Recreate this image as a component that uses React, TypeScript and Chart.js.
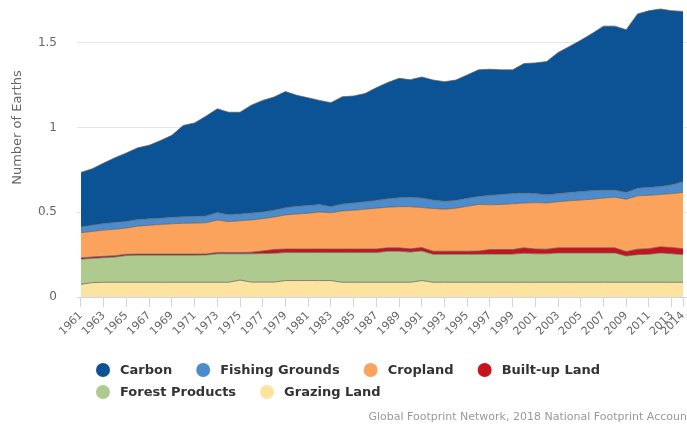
import React, { useEffect, useRef } from 'react';
import { Chart, registerables } from 'chart.js';

Chart.register(...registerables);

const years = [
  1961, 1962, 1963, 1964, 1965, 1966, 1967, 1968, 1969, 1970,
  1971, 1972, 1973, 1974, 1975, 1976, 1977, 1978, 1979, 1980,
  1981, 1982, 1983, 1984, 1985, 1986, 1987, 1988, 1989, 1990,
  1991, 1992, 1993, 1994, 1995, 1996, 1997, 1998, 1999, 2000,
  2001, 2002, 2003, 2004, 2005, 2006, 2007, 2008, 2009, 2010,
  2011, 2012, 2013, 2014,
];

const tickLabels = [
  '1961', '1963', '1965', '1967', '1969', '1971', '1973', '1975', '1977', '1979',
  '1981', '1983', '1985', '1987', '1989', '1991', '1993', '1995', '1997', '1999',
  '2001', '2003', '2005', '2007', '2009', '2011', '2013', '2014',
];

const yTickValues = [0, 0.5, 1, 1.5];

const grazingLand = [
  0.075, 0.085, 0.087, 0.087, 0.087, 0.087, 0.087, 0.087, 0.087, 0.087,
  0.087, 0.087, 0.087, 0.087, 0.100, 0.088, 0.088, 0.088, 0.097, 0.097,
  0.097, 0.097, 0.097, 0.087, 0.087, 0.087, 0.087, 0.087, 0.087, 0.087,
  0.097, 0.087, 0.087, 0.087, 0.087, 0.087, 0.087, 0.087, 0.087, 0.087,
  0.087, 0.087, 0.087, 0.087, 0.087, 0.087, 0.087, 0.087, 0.087, 0.087,
  0.087, 0.087, 0.087, 0.087,
];

const forestProducts = [
  0.148, 0.143, 0.145, 0.149, 0.158, 0.160, 0.160, 0.160, 0.160, 0.160,
  0.160, 0.161, 0.168, 0.168, 0.155, 0.167, 0.168, 0.170, 0.165, 0.165,
  0.165, 0.165, 0.165, 0.175, 0.175, 0.175, 0.175, 0.183, 0.183, 0.178,
  0.175, 0.165, 0.165, 0.165, 0.165, 0.165, 0.166, 0.166, 0.166, 0.171,
  0.168, 0.168, 0.173, 0.173, 0.173, 0.173, 0.173, 0.173, 0.155, 0.163,
  0.165, 0.173, 0.168, 0.163,
];

const builtUpLand = [
  0.007, 0.008, 0.008, 0.007, 0.007, 0.006, 0.006, 0.006, 0.006, 0.006,
  0.006, 0.006, 0.007, 0.007, 0.007, 0.009, 0.016, 0.022, 0.021, 0.021,
  0.021, 0.021, 0.021, 0.021, 0.021, 0.021, 0.021, 0.020, 0.020, 0.019,
  0.020, 0.018, 0.018, 0.018, 0.018, 0.019, 0.027, 0.027, 0.027, 0.032,
  0.028, 0.027, 0.030, 0.030, 0.030, 0.030, 0.030, 0.030, 0.026, 0.032,
  0.033, 0.036, 0.037, 0.035,
];

const cropland = [
  0.149, 0.151, 0.155, 0.157, 0.155, 0.165, 0.170, 0.175, 0.179, 0.182,
  0.183, 0.184, 0.192, 0.183, 0.188, 0.191, 0.190, 0.192, 0.201, 0.207,
  0.211, 0.219, 0.214, 0.225, 0.229, 0.235, 0.241, 0.240, 0.243, 0.249,
  0.236, 0.252, 0.248, 0.254, 0.265, 0.275, 0.264, 0.266, 0.270, 0.265,
  0.274, 0.273, 0.272, 0.278, 0.282, 0.287, 0.294, 0.299, 0.309, 0.315,
  0.315, 0.309, 0.318, 0.332,
];

const fishingGrounds = [
  0.034, 0.037, 0.038, 0.040, 0.039, 0.039, 0.038, 0.037, 0.038, 0.039,
  0.040, 0.040, 0.044, 0.040, 0.040, 0.040, 0.040, 0.040, 0.042, 0.045,
  0.046, 0.043, 0.036, 0.040, 0.043, 0.044, 0.046, 0.050, 0.052, 0.055,
  0.056, 0.050, 0.047, 0.046, 0.047, 0.047, 0.056, 0.059, 0.060, 0.058,
  0.053, 0.048, 0.048, 0.049, 0.050, 0.051, 0.046, 0.041, 0.040, 0.045,
  0.047, 0.047, 0.052, 0.063,
];

const carbon = [
  0.322, 0.333, 0.357, 0.382, 0.404, 0.423, 0.434, 0.458, 0.484, 0.538,
  0.551, 0.589, 0.612, 0.605, 0.600, 0.637, 0.658, 0.668, 0.686, 0.655,
  0.635, 0.615, 0.613, 0.633, 0.631, 0.638, 0.665, 0.685, 0.705, 0.694,
  0.714, 0.708, 0.705, 0.710, 0.728, 0.747, 0.744, 0.735, 0.730, 0.764,
  0.771, 0.786, 0.832, 0.861, 0.893, 0.927, 0.968, 0.968, 0.960, 1.028,
  1.042, 1.047, 1.027, 1.005,
];

const creditText = 'Global Footprint Network, 2018 National Footprint Accounts';
const yAxisTitle = 'Number of Earths';

const FONT = '"DejaVu Sans", sans-serif';

const legendPlugin = {
  id: 'customBottomLegend',
  afterDraw(chart: any) {
    const ctx = chart.ctx as CanvasRenderingContext2D;
    const items = chart.data.datasets.slice().reverse();
    ctx.save();
    ctx.font = 'bold 13px ' + FONT;
    ctx.textBaseline = 'middle';
    ctx.textAlign = 'left';
    const startX = chart.chartArea.left + 26;
    let x = startX;
    let y = chart.height - 57;
    const maxX = chart.width - 20;
    items.forEach((ds: any) => {
      const tw = ctx.measureText(ds.label).width;
      const w = 17 + tw;
      if (x + w > maxX && x > startX) {
        x = startX;
        y += 22;
      }
      ctx.fillStyle = ds.backgroundColor;
      ctx.beginPath();
      ctx.arc(x, y, 7, 0, Math.PI * 2);
      ctx.fill();
      ctx.fillStyle = '#333333';
      ctx.fillText(ds.label, x + 17, y + 1);
      x += w + 31;
    });
    ctx.font = '11px ' + FONT;
    ctx.fillStyle = '#999999';
    ctx.textAlign = 'right';
    ctx.fillText(creditText, chart.width + 10, chart.height - 10);
    ctx.restore();
  },
};

const series = [
  { label: 'Grazing Land', data: grazingLand, color: '#fde3a0' },
  { label: 'Forest Products', data: forestProducts, color: '#afca8f' },
  { label: 'Built-up Land', data: builtUpLand, color: '#c8121c' },
  { label: 'Cropland', data: cropland, color: '#fba35d' },
  { label: 'Fishing Grounds', data: fishingGrounds, color: '#4c8ccc' },
  { label: 'Carbon', data: carbon, color: '#0b5394' },
];

const clearPadding = (scale: any) => {
  scale.paddingTop = 0;
  scale.paddingBottom = 0;
  scale.paddingLeft = 0;
  scale.paddingRight = 0;
};

export default function App() {
  const canvasRef = useRef<HTMLCanvasElement>(null);

  useEffect(() => {
    if (!canvasRef.current) return;
    Chart.defaults.font.family = FONT;
    const chart = new Chart(canvasRef.current, {
      type: 'line',
      data: {
        datasets: series.map((s, i) => ({
          label: s.label,
          data: years.map((yr, j) => ({ x: yr, y: s.data[j] })),
          backgroundColor: s.color,
          borderColor: 'rgba(95,95,95,0.75)',
          borderWidth: 1,
          fill: i === 0 ? 'origin' : '-1',
          pointRadius: 0,
          tension: 0,
        })),
      },
      options: {
        responsive: false,
        animation: false,
        layout: { autoPadding: false, padding: { top: 0, left: 0, right: 0, bottom: 85 } },
        plugins: {
          legend: { display: false },
          tooltip: { enabled: false },
        },
        scales: {
          x: {
            type: 'linear',
            min: 1960.65,
            max: 2014.35,
            afterBuildTicks: (scale: any) => {
              scale.ticks = tickLabels.map((t) => ({ value: Number(t) }));
            },
            afterFit: (scale: any) => {
              scale.height = 45;
              clearPadding(scale);
            },
            ticks: {
              autoSkip: false,
              minRotation: 45,
              maxRotation: 45,
              padding: 2,
              color: '#666666',
              font: { size: 11 },
              callback: (v: any) => String(v),
            },
            grid: {
              display: true,
              drawOnChartArea: false,
              drawTicks: true,
              tickLength: 10,
              color: '#ccd6eb',
            },
            border: { display: true, color: '#ccd6eb', width: 1 },
          },
          y: {
            stacked: true,
            min: 0,
            max: 2,
            afterBuildTicks: (scale: any) => {
              scale.ticks = yTickValues.map((v) => ({ value: v }));
            },
            afterFit: (scale: any) => {
              scale.width = 77;
              clearPadding(scale);
            },
            ticks: {
              padding: 20,
              color: '#666666',
              font: { size: 12 },
              callback: (v: any) => String(v),
            },
            grid: { color: '#e6e6e6', drawTicks: false },
            border: { display: false },
            title: {
              display: true,
              text: yAxisTitle,
              color: '#666666',
              font: { size: 13 },
              padding: { top: 10, bottom: 0 },
            },
          },
        },
      },
      plugins: [legendPlugin],
    });
    return () => chart.destroy();
  }, []);

  return (
    <div style={{ position: 'absolute', left: 0, top: -42, width: 687, height: 469 }}>
      <canvas ref={canvasRef} width={687} height={469} style={{ display: 'block' }} />
    </div>
  );
}
